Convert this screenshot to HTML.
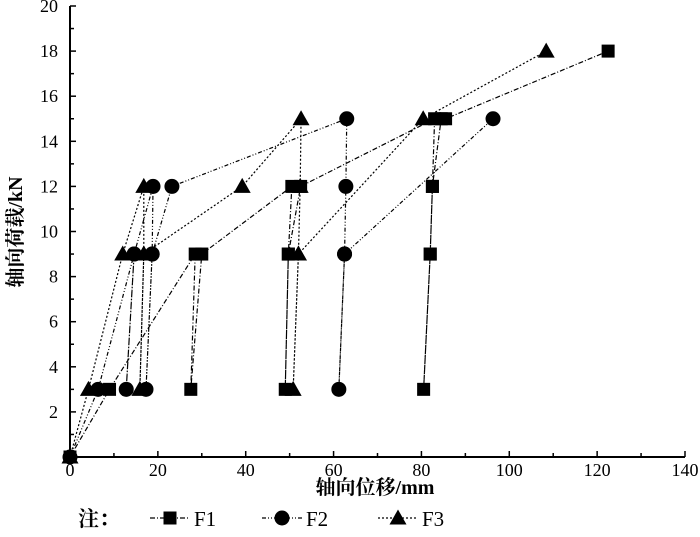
<!DOCTYPE html>
<html><head><meta charset="utf-8"><style>
body{margin:0;background:#fff}
svg text{font-family:"Liberation Serif","Noto Serif CJK SC",serif;fill:#000}
</style></head><body>
<svg width="700" height="532" viewBox="0 0 700 532" xmlns="http://www.w3.org/2000/svg">
<g id="axes"></g>
<g id="plot"></g>
<text x="375" y="494" font-size="20" font-weight="bold" text-anchor="middle">轴向位移/mm</text>
<text transform="translate(22,232) rotate(-90)" font-size="20" font-weight="bold" text-anchor="middle">轴向荷载/kN</text>
<g id="legend">
<text x="78" y="526" font-size="21" font-weight="bold">注：</text>
</g>
</svg>
<script>
const xTicks=[0,20,40,60,80,100,120,140];
const yTicks=[2,4,6,8,10,12,14,16,18,20];
const seriesNames=['F1','F2','F3'];
const f1X=[0,9,28.5,27.5,30,50.5,49.7,49,49.7,52.5,83,82.5,82,80.5,82,82.5,84.5,85.5,122.5];
const f1Y=[0,3,9,3,9,12,9,3,9,12,15,12,9,3,9,12,15,15,18];
const f2X=[0,6.4,14.6,12.8,14.6,18.9,18.7,17.3,18.7,23.2,63,62.8,62.5,61.2,62.5,96.3];
const f2Y=[0,3,9,3,9,12,9,3,9,12,15,12,9,3,9,15];
const f3X=[0,4.2,12,16.8,16.8,15.9,16.8,39.2,52.6,52.4,52,50.8,52,80.4,108.4];
const f3Y=[0,3,9,12,9,3,9,12,15,12,9,3,9,15,18];
const NS='http://www.w3.org/2000/svg';
const X0=70,X1=685,Y0=457,Y1=6;
const sx=v=>X0+(v/140)*(X1-X0);
const sy=v=>Y0-(v/20)*(Y0-Y1);
function mk(tag,attrs,parent){const e=document.createElementNS(NS,tag);for(const k in attrs)e.setAttribute(k,attrs[k]);parent.appendChild(e);return e;}
const axes=document.getElementById('axes');
let e=mk('line',{x1:X0,y1:Y0,x2:X1,y2:Y0,stroke:'#000','stroke-width':2},axes);


e=mk('line',{x1:X0,y1:Y0,x2:X0,y2:Y1,stroke:'#000','stroke-width':2},axes);


for(let v=0;v<=140;v+=10){mk('line',{x1:sx(v),y1:Y0,x2:sx(v),y2:Y0-(v%20?4:6),stroke:'#000','stroke-width':1.5},axes);}
for(let v=1;v<=20;v++){mk('line',{x1:X0,y1:sy(v),x2:X0+(v%2?4:6),y2:sy(v),stroke:'#000','stroke-width':1.5},axes);}
xTicks.forEach(v=>{const t=mk('text',{x:sx(v),y:Y0+19,'font-size':18,'text-anchor':'middle'},axes);t.textContent=v;

});
yTicks.forEach(v=>{const t=mk('text',{x:X0-12,y:sy(v)+6,'font-size':18,'text-anchor':'end'},axes);t.textContent=v;

});
function marker(type,x,y,p){
 if(type==0)return mk('rect',{x:x-6.5,y:y-6.5,width:13,height:13,fill:'#000'},p);
 if(type==1)return mk('circle',{cx:x,cy:y,r:7.5,fill:'#000'},p);
 return mk('polygon',{points:`${x},${y-8.5} ${x+8.5},${y+6.5} ${x-8.5},${y+6.5}`,fill:'#000'},p);
}
const plot=document.getElementById('plot');
const dashes=['5,2,1,2','4,2,1,2,1,2','2,2'];
[[f1X,f1Y],[f2X,f2Y],[f3X,f3Y]].forEach((s,i)=>{
 const g=mk('g',{},plot);
 
 
 const pts=s[0].map((x,j)=>sx(x)+','+sy(s[1][j])).join(' ');
 const l=mk('polyline',{points:pts,fill:'none',stroke:'#000','stroke-width':1.2,'stroke-dasharray':dashes[i]},g);
 
 
 s[0].forEach((x,j)=>{const m=marker(i,sx(x),sy(s[1][j]),g);
 
 });
});
const leg=document.getElementById('legend');
const lx=[150,262,378];
seriesNames.forEach((n,i)=>{
 const g=mk('g',{},leg);
 
 
 mk('line',{x1:lx[i],y1:518,x2:lx[i]+40,y2:518,stroke:'#000','stroke-width':1.2,'stroke-dasharray':dashes[i]},g);
 marker(i,lx[i]+20,518,g);
 const t=mk('text',{x:lx[i]+44,y:526,'font-size':21},g);t.textContent=n;
});
</script>
</body></html>
